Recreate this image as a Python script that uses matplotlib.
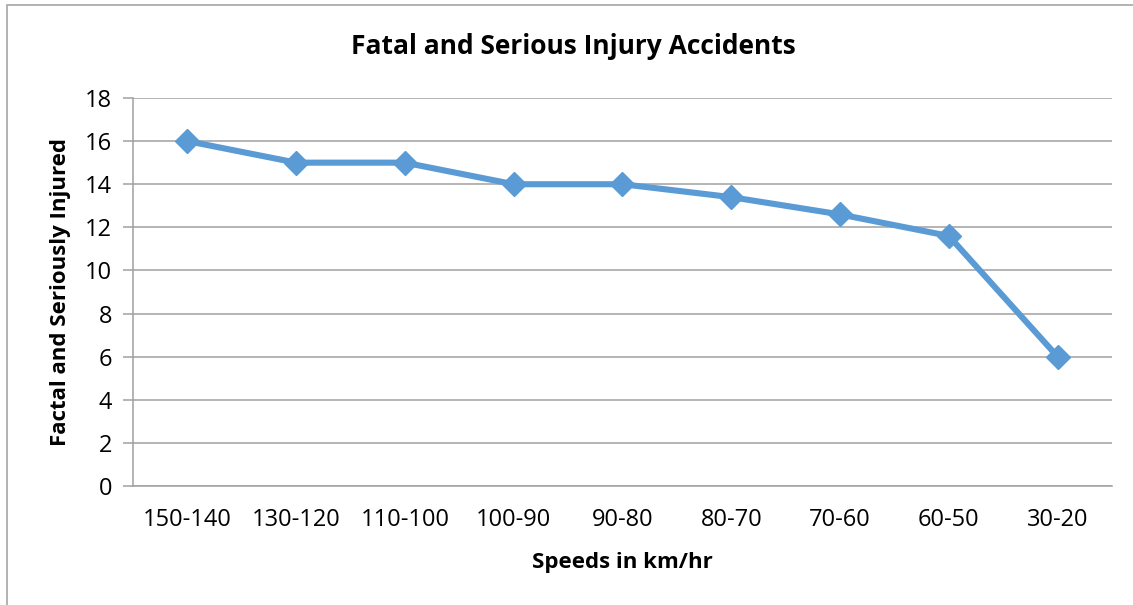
import matplotlib
matplotlib.use("Agg")
import matplotlib.pyplot as plt
from matplotlib.patches import Rectangle

categories = ["150-140", "130-120", "110-100", "100-90", "90-80", "80-70", "70-60", "60-50", "30-20"]
values = [16, 15, 15, 14, 14, 13.4, 12.6, 11.6, 6]
yticks = [0, 2, 4, 6, 8, 10, 12, 14, 16, 18]

plt.rcParams['font.family'] = ['Open Sans', 'DejaVu Sans']

W, H = 1133, 605
fig = plt.figure(figsize=(W / 100, H / 100), dpi=100)
fig.patch.set_facecolor("white")

# outer chart border
fig.add_artist(Rectangle((7 / W, -0.05), 1.2, (H - 5) / H + 0.05, transform=fig.transFigure,
                         fill=False, edgecolor="#A6A6A6", linewidth=1.2))

ax = fig.add_axes([133 / W, (H - 486) / H, (1112 - 133) / W, (486 - 98) / H])
x = list(range(len(categories)))
ax.plot(x, values, color="#5B9BD5", linewidth=4.4, marker="D", markersize=12,
        markerfacecolor="#5B9BD5", markeredgecolor="#5B9BD5", solid_joinstyle="round", zorder=3)

ax.set_xlim(-0.5, len(categories) - 0.5)
ax.set_ylim(0, 18)
ax.set_yticks(yticks)
ax.set_xticks(x)
ax.set_xticklabels(categories)

ax.grid(axis="y", color="#A0A0A0", linewidth=1.1)
ax.set_axisbelow(True)
for s in ["top", "right"]:
    ax.spines[s].set_visible(False)
ax.spines["left"].set_color("#A0A0A0")
ax.spines["bottom"].set_color("#A0A0A0")
ax.spines["left"].set_linewidth(1.1)
ax.spines["bottom"].set_linewidth(1.1)

ax.tick_params(axis="y", length=7, color="#A0A0A0", width=1.1, labelsize=17, pad=8)
ax.tick_params(axis="x", length=0, labelsize=17, pad=16)

ax.set_xlabel("Speeds in km/hr", fontsize=16, fontweight="bold", labelpad=14)
ax.set_ylabel("Factal and Seriously Injured", fontsize=16, fontweight="bold", labelpad=10)
fig.text((350 + 797) / 2 / W, 1 - 46 / H, "Fatal and Serious Injury Accidents",
         ha="center", va="center", fontsize=19, fontweight="bold")

fig.savefig("out.png", dpi=100, facecolor="white")
